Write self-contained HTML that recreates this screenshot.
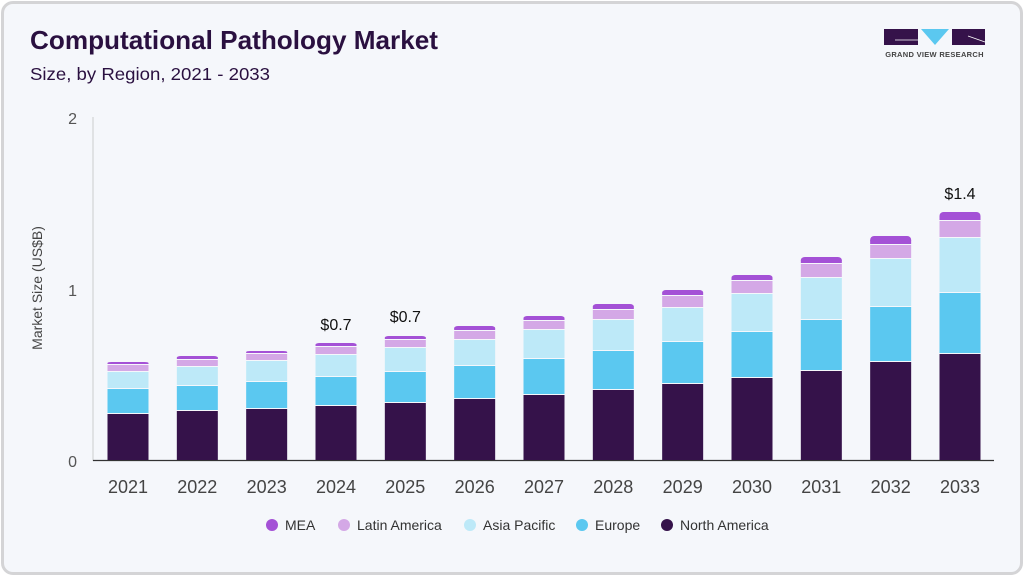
<!DOCTYPE html>
<html><head><meta charset="utf-8"><style>
body{margin:0;width:1024px;height:576px;background:#fff;overflow:hidden}
.card{position:absolute;left:1px;top:1px;width:1016px;height:568px;border:3px solid #d4d4d6;border-radius:12px;background:#f5f7fb}
svg{position:absolute;left:0;top:0}
text{font-family:"Liberation Sans",sans-serif}
</style></head><body>
<div class="card"></div>
<svg width="1024" height="576" viewBox="0 0 1024 576">
<text x="30" y="49" font-size="26" font-weight="bold" fill="#2a1040" textLength="408" lengthAdjust="spacingAndGlyphs">Computational Pathology Market</text>
<text x="30" y="80" font-size="17.5" fill="#2a1040" textLength="240" lengthAdjust="spacingAndGlyphs">Size, by Region, 2021 - 2033</text>
<!-- logo -->
<rect x="884" y="29" width="34" height="16" fill="#35124a"/>
<line x1="895" y1="40" x2="918" y2="40" stroke="#fff" stroke-width="0.8"/>
<polygon points="921,29 949,29 935,45" fill="#5bc8f0"/>
<rect x="952" y="29" width="33" height="16" fill="#35124a"/>
<line x1="968" y1="36" x2="985" y2="42" stroke="#fff" stroke-width="0.8"/>
<text x="934.5" y="57" font-size="7.5" font-weight="bold" fill="#444" text-anchor="middle" letter-spacing="0.3">GRAND VIEW RESEARCH</text>
<!-- axes -->
<line x1="93" y1="117" x2="93" y2="461" stroke="#ccc" stroke-width="1"/>
<line x1="93" y1="460.5" x2="994" y2="460.5" stroke="#333" stroke-width="1.2"/>
<text x="77" y="124" font-size="16" fill="#555" text-anchor="end">2</text>
<text x="77" y="296" font-size="16" fill="#555" text-anchor="end">1</text>
<text x="77" y="467" font-size="16" fill="#555" text-anchor="end">0</text>
<text transform="translate(42,288) rotate(-90)" font-size="14" fill="#444" text-anchor="middle">Market Size (US$B)</text>
<g id="bars"></g>
<g font-size="18" fill="#444" text-anchor="middle">
<text x="128" y="493">2021</text><text x="197.3" y="493">2022</text><text x="266.7" y="493">2023</text><text x="336" y="493">2024</text><text x="405.3" y="493">2025</text><text x="474.7" y="493">2026</text><text x="544" y="493">2027</text><text x="613.3" y="493">2028</text><text x="682.7" y="493">2029</text><text x="752" y="493">2030</text><text x="821.3" y="493">2031</text><text x="890.7" y="493">2032</text><text x="960" y="493">2033</text>
</g>
<g font-size="16" fill="#111" text-anchor="middle">
<text x="336" y="330">$0.7</text><text x="405.3" y="322">$0.7</text><text x="960" y="199">$1.4</text>
</g>
<g font-size="14" fill="#333">
<circle cx="272" cy="525" r="6" fill="#a451d6"/><text x="285" y="530">MEA</text>
<circle cx="344" cy="525" r="6" fill="#d4a8e6"/><text x="357" y="530">Latin America</text>
<circle cx="470" cy="525" r="6" fill="#bde9f8"/><text x="483" y="530">Asia Pacific</text>
<circle cx="582" cy="525" r="6" fill="#5bc8f0"/><text x="595" y="530">Europe</text>
<circle cx="667" cy="525" r="6" fill="#35124a"/><text x="680" y="530">North America</text>
</g>
</svg>
<script>
var d=[[362,365,372,389,414],[356,360,367,386,411],[351,354,361,382,409],[343,347,355,377,406],[336,340,348,372,403],[326,331,340,366,399],[316,321,330,359,395],[304,310,320,351,390],[290,296,308,342,384],[275,281,294,332,378],[257,264,278,320,371],[236,245,259,307,362],[212,221,238,293,354]];
var c=["#a451d6","#d4a8e6","#bde9f8","#5bc8f0","#35124a"];
var s="";
d.forEach(function(b,i){var x=107.5+i*69.333;var ys=b.concat([460]);
for(var k=0;k<5;k++){var y=ys[k],h=ys[k+1]-y-(k<4?1:0);
if(k==0){s+='<rect x="'+x+'" y="'+y+'" width="41" height="'+h+'" rx="4" fill="'+c[0]+'"/>';s+='<rect x="'+x+'" y="'+(y+h/2)+'" width="41" height="'+(h/2)+'" fill="'+c[0]+'"/>';}
else s+='<rect x="'+x+'" y="'+y+'" width="41" height="'+h+'" fill="'+c[k]+'"/>';}});
document.getElementById("bars").innerHTML=s;
</script>
</body></html>
